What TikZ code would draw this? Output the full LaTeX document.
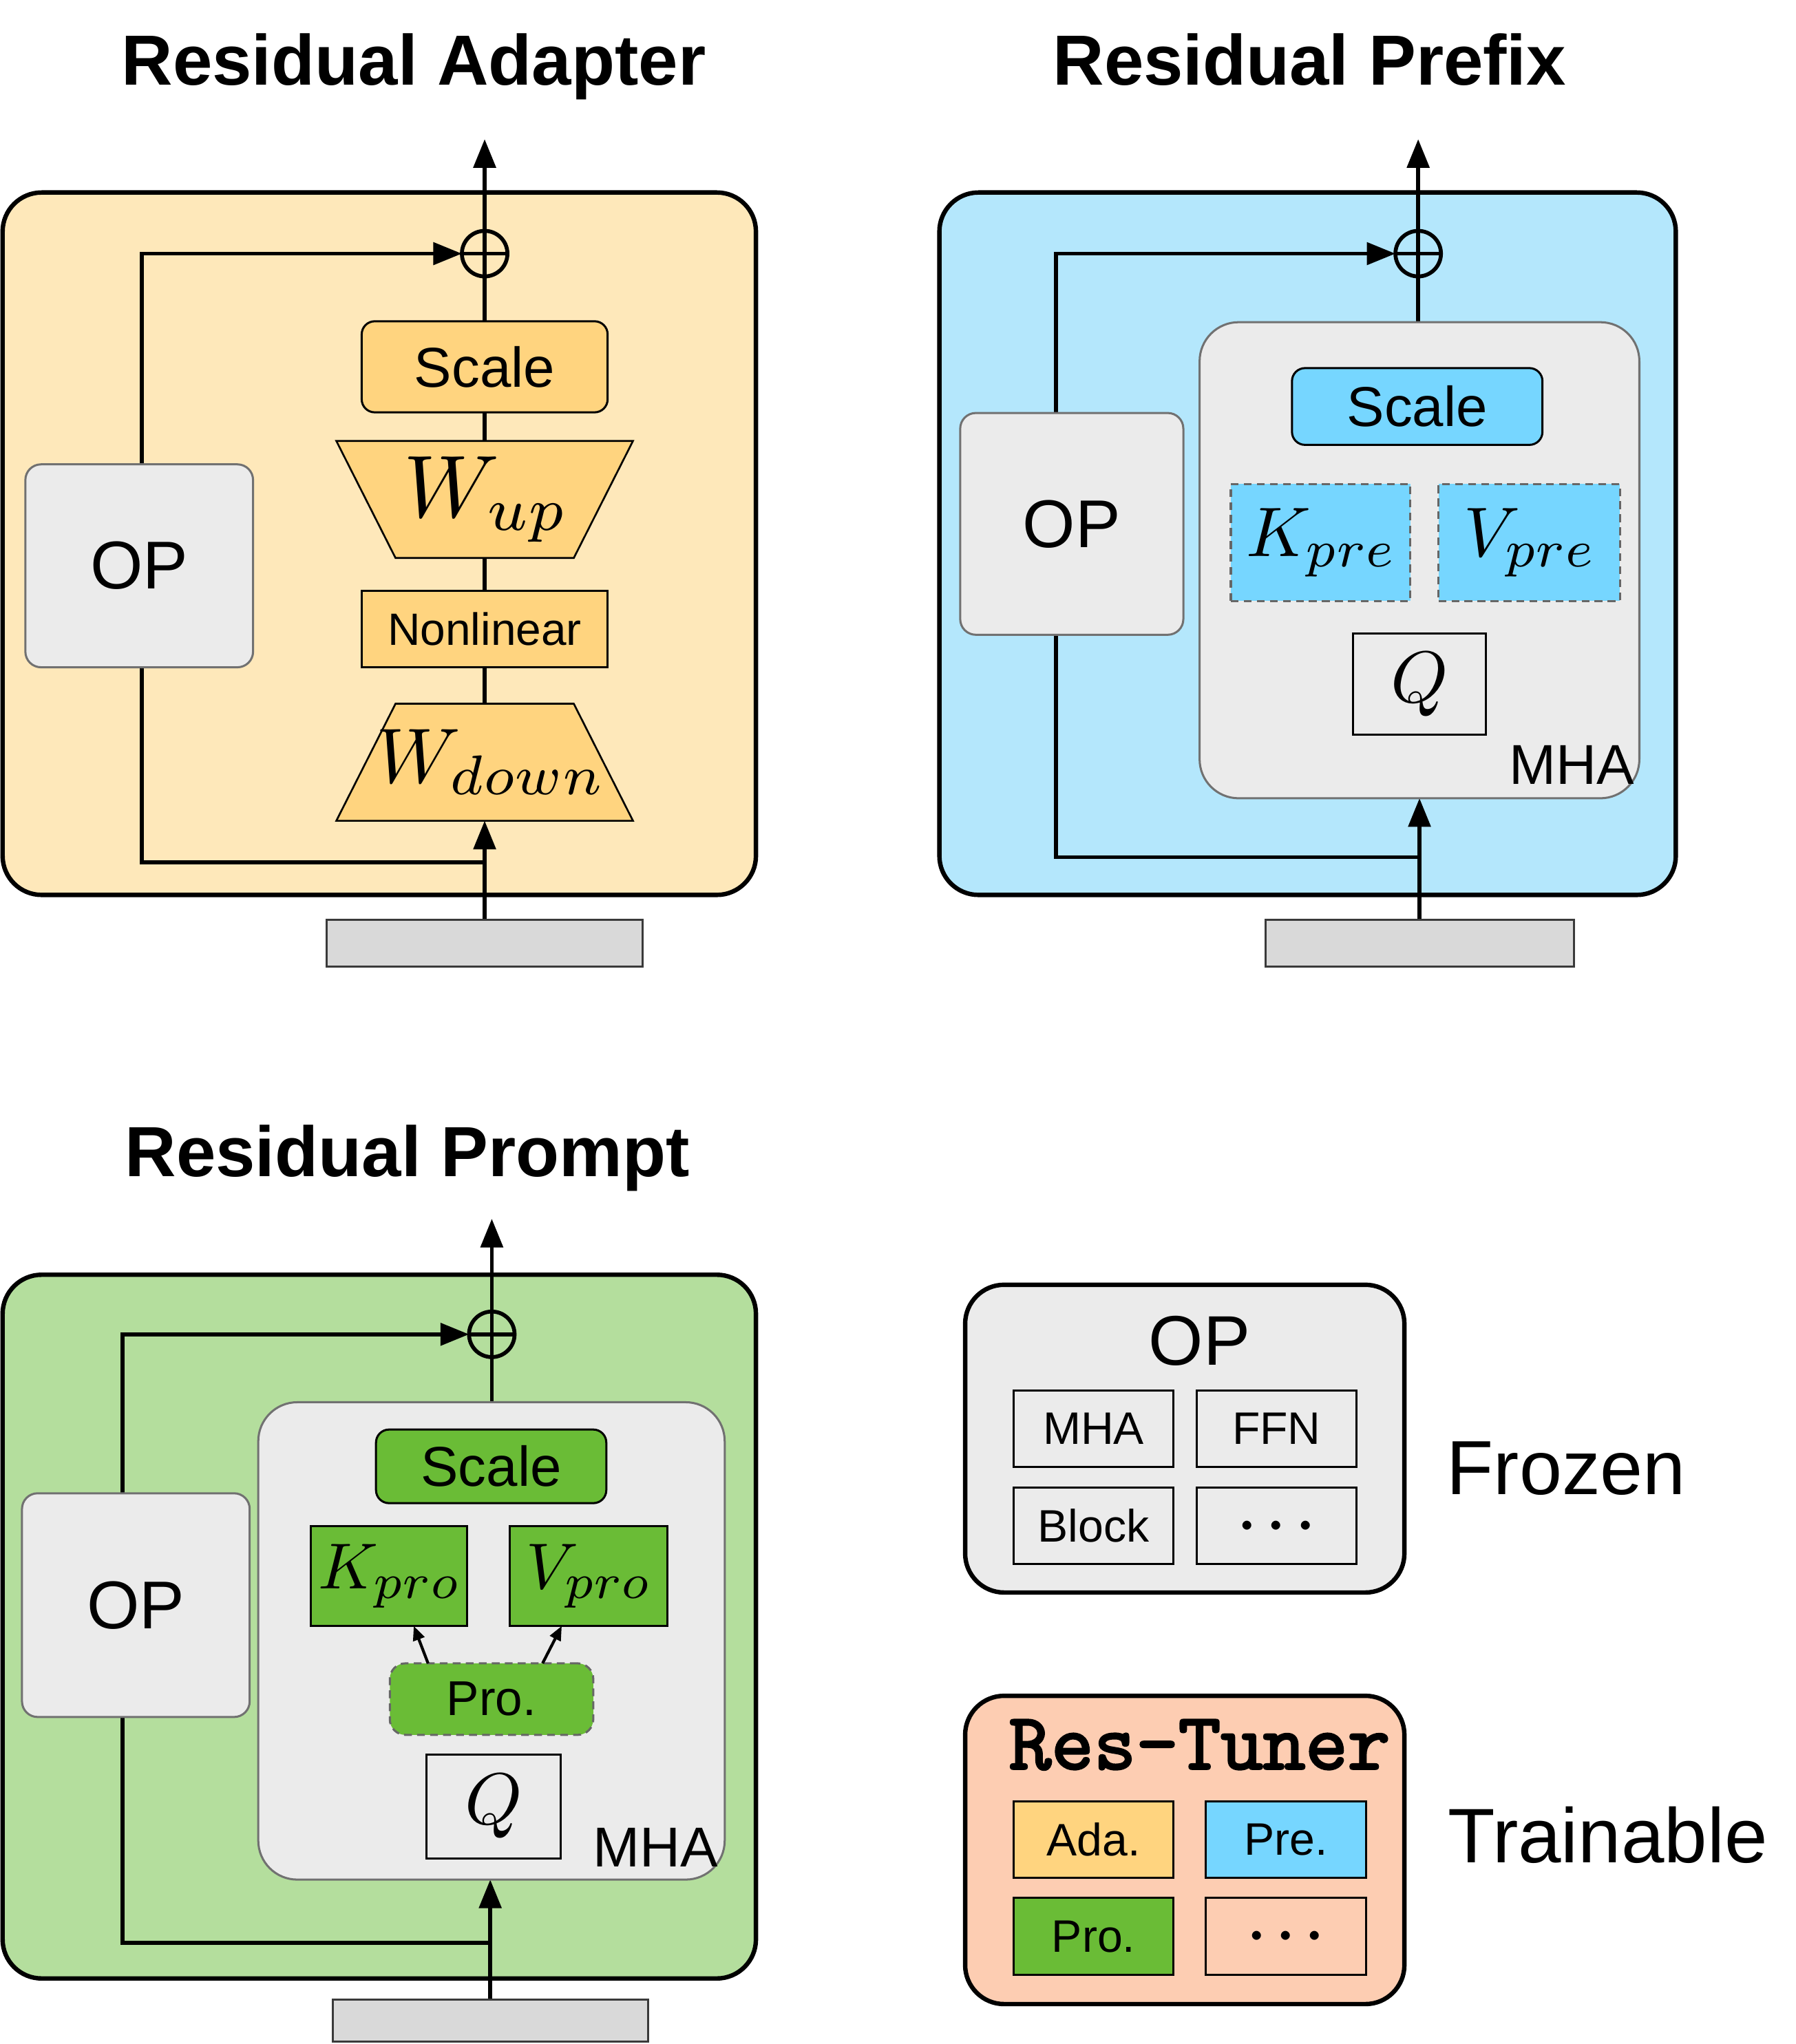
\RequirePackage{fix-cm}
\documentclass[tikz,border=0pt]{standalone}
\usepackage{fontspec}
\setmainfont{Liberation Sans}
\newfontfamily\resfont{lmmono10-regular.otf}[FakeBold=2.5]
\usetikzlibrary{arrows.meta}
\DeclareFontFamily{OML}{cmmx}{\skewchar\font=127}
\DeclareFontShape{OML}{cmmx}{m}{it}{<23.5><21.5><20><19>cmmi7 <->cmmi10}{}
\DeclareSymbolFont{letters}{OML}{cmmx}{m}{it}
\DeclareMathSizes{34}{34}{23.5}{15}
\DeclareMathSizes{30}{30}{21.5}{14}
\DeclareMathSizes{27}{27}{20}{13}
\DeclareMathSizes{25}{25}{19}{12}
\DeclareMathSizes{28}{28}{20}{13}
\DeclareMathSizes{22}{22}{15}{11}
\definecolor{orgbg}{HTML}{FEE8BA}
\definecolor{org}{HTML}{FFD47F}
\definecolor{blubg}{HTML}{B4E7FC}
\definecolor{blu}{HTML}{76D6FF}
\definecolor{grnbg}{HTML}{B4DE9D}
\definecolor{grn}{HTML}{6ABC36}
\definecolor{opgray}{HTML}{EBEBEB}
\definecolor{opedge}{HTML}{717171}
\definecolor{bargray}{HTML}{D9D9D9}
\definecolor{baredge}{HTML}{3A3A3A}
\definecolor{dashgray}{HTML}{666666}
\definecolor{peach}{HTML}{FDCDB2}
\newcommand\fsz[1]{\fontsize{#1}{#1}\selectfont}
\newcommand\dotsrow{\fsz{22}{\boldmath$\cdots$}}
\pgfdeclarelayer{back}
\pgfdeclarelayer{mid}
\pgfsetlayers{back,mid,main}
\tikzset{
  every node/.style={inner sep=0pt, outer sep=0pt},
  sz/.style 2 args={minimum width=#1*0.5pt, minimum height=#2*0.5pt},
  panel/.style={draw=black, line width=1.7pt, rounded corners=15pt},
  opbox/.style={draw=opedge, fill=opgray, line width=0.8pt, rounded corners=6pt, font=\fsz{26}},
  mhabox/.style={draw=opedge, fill=opgray, line width=0.8pt, rounded corners=15pt},
  sclbox/.style={draw=black, line width=0.8pt, rounded corners=5pt, font=\fsz{21.6}},
  plain/.style={draw=black, line width=0.8pt},
  dashbox/.style={draw=dashgray, dash pattern=on 3pt off 2pt, line width=0.8pt},
  conn/.style={line width=1.5pt},
  inbar/.style={draw=baredge, fill=bargray, line width=0.8pt},
  pluscirc/.style={circle, draw=black, line width=1.5pt, minimum size=17.5pt},
  title/.style={font=\fsz{27.3}\bfseries, anchor=base},
  cell/.style={draw=black, line width=0.8pt, font=\fsz{17.5}},
  trap/.style={fill=org, draw=black, line width=0.7pt},
  small/.style={line width=1.1pt, -{Triangle[length=5.5pt,width=4.5pt]}}
}
\begin{document}
\begin{tikzpicture}[x=0.5pt,y=-0.5pt, >={Triangle[length=11pt,width=8.5pt]}]
\useasboundingbox (0,0) rectangle (1380,1571.4);
\begin{pgfonlayer}{back}
\fill[white] (0,0) rectangle (1380,1571.4);
\node[panel, fill=orgbg, sz={579}{540}] (panA) at (291.5,418) {};
\node[panel, fill=blubg, sz={566}{540}] (panB) at (1005,418) {};
\node[panel, fill=grnbg, sz={579}{541}] (panC) at (291.5,1250.5) {};
\end{pgfonlayer}

% titles
\node[title] (tA) at (318,65.3) {Residual Adapter};
\node[title] (tB) at (1006.5,65.3) {Residual Prefix};
\node[title] (tC) at (313,904.5) {Residual Prompt};

% ---------------- Panel A
\node[opbox, sz={175}{156}] (opA) at (107,435) {OP};
\node[sclbox, fill=org, sz={189}{70}] (scA) at (372.5,282) {Scale};
\node[sz={228}{90}] (wuA) at (372.5,384) {};
\filldraw[trap] (wuA.north west) -- (wuA.north east) -- ([xshift=-22.75pt]wuA.south east) -- ([xshift=22.75pt]wuA.south west) -- cycle;
\node (wuAt) at (wuA) {\fsz{34}$W_{up}$};
\node[plain, fill=org, sz={189}{59}, font=\fsz{17.4}] (nlA) at (372.5,483.5) {Nonlinear};
\node[sz={228}{90}] (wdA) at (372.5,586) {};
\filldraw[trap] ([xshift=22.75pt]wdA.north west) -- ([xshift=-22.75pt]wdA.north east) -- (wdA.south east) -- (wdA.south west) -- cycle;
\node (wdAt) at ([xshift=2pt]wdA) {\fsz{30}$W_{down}$};
\node[inbar, sz={243}{36}] (inA) at (372.5,725) {};
\node[pluscirc] (plA) at (372.5,195) {};
\coordinate (topA) at (372.5,107);
\coordinate (brA) at (372.5,663);
\coordinate (cnA) at (109,195);
\begin{pgfonlayer}{mid}
\draw[conn,->] (inA.north) -- (wdA.south);
\draw[conn,->] (brA) -| (cnA) -- (plA.west);
\draw[conn] (wdA.north) -- (nlA.south) (nlA.north) -- (wuA.south) (wuA.north) -- (scA.south) (scA.north) -- (plA.south);
\draw[conn,->] (plA.north) -- (topA);
\end{pgfonlayer}
\draw[conn] (plA.west) -- (plA.east) (plA.north) -- (plA.south);

% ---------------- Panel B
\node[opbox, sz={171.5}{170.5}] (opB) at (823.75,402.75) {OP};
\node[mhabox, sz={338}{366}] (mhB) at (1091,430.7) {};
\node[sclbox, fill=blu, sz={192.5}{59}] (scB) at (1089.25,312.5) {Scale};
\node[dashbox, fill=blu, sz={138}{90}] (kB) at (1015,417) {\fsz{27}$K_{pre}$};
\node[dashbox, fill=blu, sz={139.4}{90}] (vB) at (1175.3,417) {\fsz{27}$V_{pre}$};
\node[plain, fill=opgray, sz={102}{78}] (qB) at (1091,526) {\fsz{28}$Q$};
\node[anchor=base east, font=\fsz{21.6}] (mlB) at (1256,603) {MHA};
\node[inbar, sz={237}{36}] (inB) at (1091,725) {};
\node[pluscirc] (plB) at (1090,195) {};
\coordinate (topB) at (1090,107);
\coordinate (brB) at (1091,659);
\coordinate (cnB) at (811.6,195);
\begin{pgfonlayer}{mid}
\draw[conn,->] (inB.north) -- (inB.north |- mhB.south);
\draw[conn,->] (brB) -| (cnB) -- (plB.west);
\draw[conn] (plB.south |- mhB.north) -- (plB.south);
\draw[conn,->] (plB.north) -- (topB);
\end{pgfonlayer}
\draw[conn] (plB.west) -- (plB.east) (plB.north) -- (plB.south);

% ---------------- Panel C
\node[opbox, sz={175}{172}] (opC) at (104.4,1234) {OP};
\node[mhabox, sz={358.5}{367}] (mhC) at (377.75,1261.5) {};
\node[sclbox, fill=grn, sz={177}{56.6}] (scC) at (377.5,1127.3) {Scale};
\node[plain, fill=grn, sz={120}{77}] (kC) at (299,1211.5) {\fsz{25}$K_{pro}$};
\node[plain, fill=grn, sz={121.3}{77}] (vC) at (452.35,1211.5) {\fsz{25}$V_{pro}$};
\node[dashbox, rounded corners=6pt, fill=grn, sz={156.4}{55}, font=\fsz{18.8}] (prC) at (377.8,1306.25) {Pro.};
\node[plain, fill=opgray, sz={103}{79.6}] (qC) at (379.5,1388.8) {\fsz{28}$Q$};
\node[anchor=base east, font=\fsz{21.6}] (mlC) at (552,1435) {MHA};
\node[inbar, sz={242.4}{32.5}] (inC) at (376.8,1553.5) {};
\node[pluscirc] (plC) at (378,1025.8) {};
\coordinate (topC) at (378,937);
\coordinate (brC) at (378,1493.6);
\coordinate (cnC) at (94,1025.8);
\begin{pgfonlayer}{mid}
\draw[conn,->] (inC.north) -- (inC.north |- mhC.south);
\draw[conn,->] (brC) -| (cnC) -- (plC.west);
\draw[conn] (plC.south |- mhC.north) -- (plC.south);
\draw[conn,->] (plC.north) -- (topC);
\end{pgfonlayer}
\draw[conn] (plC.west) -- (plC.east) (plC.north) -- (plC.south);
\draw[small] ([xshift=-24.4pt]prC.north) -- ([xshift=9.5pt]kC.south);
\draw[small] ([xshift=19.6pt]prC.north) -- ([xshift=-10.3pt]vC.south);

% ---------------- Legend
\node[panel, fill=opgray, sz={337.6}{236.6}] (fz) at (910.6,1106) {};
\node[font=\fsz{27}] (fzt) at (922,1031) {OP};
\node[cell, sz={123}{58.5}] (c1) at (840.5,1098.25) {MHA};
\node[cell, sz={123}{58.5}] (c2) at (981.1,1098.25) {FFN};
\node[cell, sz={123}{58.9}] (c3) at (840.5,1173.15) {Block};
\node[cell, sz={123}{58.9}] (c4) at (981.1,1173.15) {\dotsrow};
\node[anchor=base west, font=\fsz{29.5}] (lf) at (1112,1149) {Frozen};

\node[panel, fill=peach, sz={337.6}{237}] (rt) at (910.6,1422.2) {};
\node[anchor=base, font=\fsz{31}\resfont] (rtt) at (922,1360) {Res-Tuner};
\node[cell, fill=org, sz={123}{58.7}] (d1) at (840.5,1414.35) {Ada.};
\node[cell, fill=blu, sz={123}{58.7}] (d2) at (988.25,1414.35) {Pre.};
\node[cell, fill=grn, sz={123}{59.3}] (d3) at (840.5,1488.65) {Pro.};
\node[cell, fill=peach, sz={123}{59.3}] (d4) at (988.25,1488.65) {\dotsrow};
\node[anchor=base west, font=\fsz{29.7}] (lt) at (1113,1432) {Trainable};
\end{tikzpicture}
\end{document}
